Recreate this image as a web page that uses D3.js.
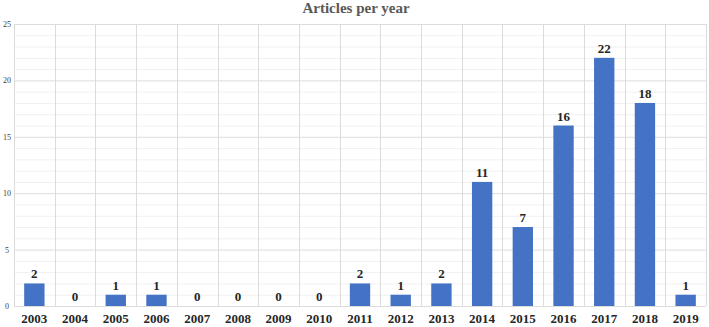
<!DOCTYPE html>
<html>
<head>
<meta charset="utf-8">
<script src="https://cdn.jsdelivr.net/npm/d3@7"></script>
<style>
  body { margin: 0; background: #fff; }
  svg text { font-family: "Liberation Serif", "DejaVu Serif", serif; }
</style>
</head>
<body>
<script>
const years = ["2003","2004","2005","2006","2007","2008","2009","2010","2011","2012","2013","2014","2015","2016","2017","2018","2019"];
const articles = [2,0,1,1,0,0,0,0,2,1,2,11,7,16,22,18,1];
const yTicks = [0,5,10,15,20,25];

function main(){
    const width = 709, height = 327;
    const margin = {top: 24, right: 3, bottom: 21, left: 14};
    const serif = "'Liberation Serif', 'DejaVu Serif', serif";

    const svg = d3.select("body").append("svg")
        .attr("width", width)
        .attr("height", height);

    const x = d3.scaleBand()
        .domain(years)
        .range([margin.left, width - margin.right])
        .paddingInner(0)
        .paddingOuter(0);

    const y = d3.scaleLinear()
        .domain([0, 25])
        .range([height - margin.bottom, margin.top]);

    // minor grid
    svg.append("g")
        .selectAll("line")
        .data(d3.range(0, 26).filter(d => d % 5 !== 0))
        .enter().append("line")
        .attr("x1", margin.left).attr("x2", width - margin.right)
        .attr("y1", d => y(d) + 0.5).attr("y2", d => y(d) + 0.5)
        .attr("stroke", "#f0f0f0");

    // major grid
    svg.append("g")
        .selectAll("line")
        .data(yTicks)
        .enter().append("line")
        .attr("x1", margin.left).attr("x2", width - margin.right)
        .attr("y1", d => y(d) + 0.5).attr("y2", d => y(d) + 0.5)
        .attr("stroke", "#dcdcdc");

    // vertical grid on category boundaries
    const bounds = years.map(d => x(d)).concat([x(years[years.length-1]) + x.bandwidth()]);
    svg.append("g")
        .selectAll("line")
        .data(bounds)
        .enter().append("line")
        .attr("x1", d => Math.round(d) + 0.5).attr("x2", d => Math.round(d) + 0.5)
        .attr("y1", y(25)).attr("y2", y(0))
        .attr("stroke", "#dcdcdc");

    // y tick labels
    svg.append("g")
        .selectAll("text")
        .data(yTicks)
        .enter().append("text")
        .attr("x", 7)
        .attr("y", d => y(d) + 3)
        .attr("text-anchor", "middle")
        .attr("font-family", serif)
        .attr("font-size", "8px")
        .attr("fill", "#404040")
        .text(d => d);

    const barW = x.bandwidth() * 0.5;

    svg.append("g")
        .selectAll("rect")
        .data(articles)
        .enter().append("rect")
        .attr("x", (d, i) => x(years[i]) + (x.bandwidth() - barW) / 2)
        .attr("y", d => y(d))
        .attr("width", barW)
        .attr("height", d => y(0) - y(d))
        .attr("fill", "#4472c4");

    // value labels
    svg.append("g")
        .selectAll("text")
        .data(articles)
        .enter().append("text")
        .attr("x", (d, i) => x(years[i]) + x.bandwidth() / 2)
        .attr("y", d => y(d) - 5)
        .attr("text-anchor", "middle")
        .attr("font-family", serif)
        .attr("font-size", "13px")
        .attr("font-weight", "bold")
        .attr("fill", "#262626")
        .text(d => d);

    // category labels
    svg.append("g")
        .selectAll("text")
        .data(years)
        .enter().append("text")
        .attr("x", d => x(d) + x.bandwidth() / 2)
        .attr("y", 323)
        .attr("text-anchor", "middle")
        .attr("font-family", serif)
        .attr("font-size", "13px")
        .attr("font-weight", "bold")
        .attr("fill", "#262626")
        .text(d => d);

    svg.append("text")
        .attr("x", 356)
        .attr("y", 13)
        .attr("text-anchor", "middle")
        .attr("font-family", serif)
        .attr("font-size", "15px")
        .attr("font-weight", "bold")
        .attr("fill", "#595959")
        .text("Articles per year");
}
main();
</script>
</body>
</html>
